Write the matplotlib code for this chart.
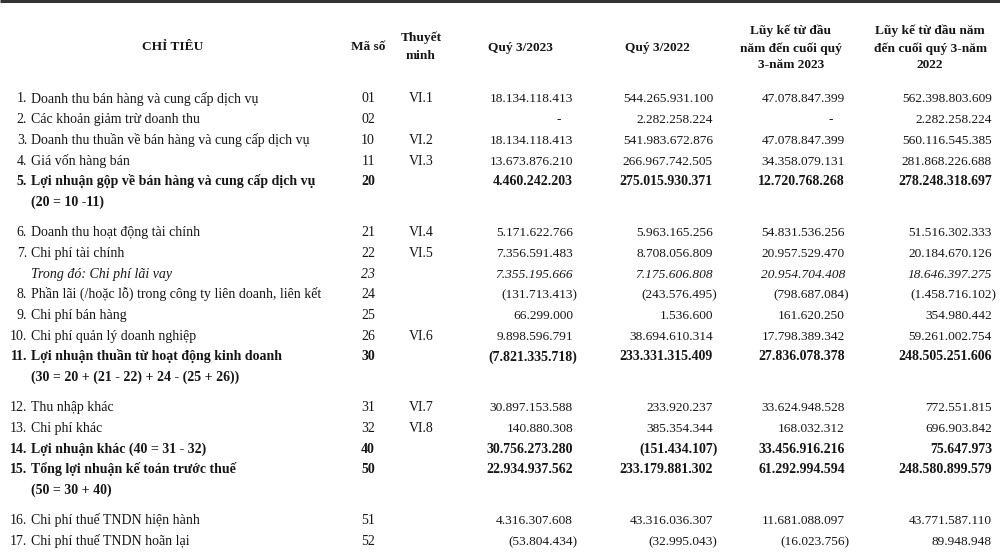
import matplotlib
matplotlib.use("Agg")
import matplotlib.pyplot as plt

plt.rcParams['font.family'] = ['Liberation Serif', 'DejaVu Serif']

# Dữ liệu bảng
so_tt = ["1.", "2.", "3.", "4.", "5.", "6.", "7.", "", "8.", "9.", "10.", "11.",
         "12.", "13.", "14.", "15.", "16.", "17."]
chi_tieu = [
    "Doanh thu bán hàng và cung cấp dịch vụ",
    "Các khoản giảm trừ doanh thu",
    "Doanh thu thuần về bán hàng và cung cấp dịch vụ",
    "Giá vốn hàng bán",
    "Lợi nhuận gộp về bán hàng và cung cấp dịch vụ",
    "Doanh thu hoạt động tài chính",
    "Chi phí tài chính",
    "Trong đó: Chi phí lãi vay",
    "Phần lãi (/hoặc lỗ) trong công ty liên doanh, liên kết",
    "Chi phí bán hàng",
    "Chi phí quản lý doanh nghiệp",
    "Lợi nhuận thuần từ hoạt động kinh doanh",
    "Thu nhập khác",
    "Chi phí khác",
    "Lợi nhuận khác (40 = 31 - 32)",
    "Tổng lợi nhuận kế toán trước thuế",
    "Chi phí thuế TNDN hiện hành",
    "Chi phí thuế TNDN hoãn lại",
]
cong_thuc = {4: "(20 = 10 -11)", 11: "(30 = 20 + (21 - 22) + 24 - (25 + 26))", 15: "(50 = 30 + 40)"}
ma_so = ["01", "02", "10", "11", "20", "21", "22", "23", "24", "25", "26", "30",
         "31", "32", "40", "50", "51", "52"]
thuyet_minh = ["VI.1", "", "VI.2", "VI.3", "", "VI.4", "VI.5", "", "", "", "VI.6", "",
               "VI.7", "VI.8", "", "", "", ""]
dong_dam = [4, 11, 14, 15]
dong_nghieng = [7]

quy3_2023 = [18134118413, None, 18134118413, 13673876210, 4460242203, 5171622766,
             7356591483, 7355195666, -131713413, 66299000, 9898596791, -7821335718,
             30897153588, 140880308, 30756273280, 22934937562, 4316307608, -53804434]
quy3_2022 = [544265931100, 2282258224, 541983672876, 266967742505, 275015930371,
             5963165256, 8708056809, 7175606808, -243576495, 1536600, 38694610314,
             233331315409, 233920237, 385354344, -151434107, 233179881302,
             43316036307, -32995043]
luyke_2023 = [47078847399, None, 47078847399, 34358079131, 12720768268, 54831536256,
              20957529470, 20954704408, -798687084, 161620250, 17798389342,
              27836078378, 33624948528, 168032312, 33456916216, 61292994594,
              11681088097, -16023756]
luyke_2022 = [562398803609, 2282258224, 560116545385, 281868226688, 278248318697,
              51516302333, 20184670126, 18646397275, -1458716102, 354980442,
              59261002754, 248505251606, 772551815, 696903842, 75647973,
              248580899579, 43771587110, 89948948]

tieu_de = ["Quý 3/2023", "Quý 3/2022", "Lũy kế từ đầu\nnăm đến cuối quý\n3-năm 2023",
           "Lũy kế từ đầu năm\nđến cuối quý 3-năm\n2022"]


def dinh_dang(v):
    s = f"{abs(v):,}".replace(",", ".")
    return f"({s})" if v < 0 else s


fig = plt.figure(figsize=(10, 5.58), dpi=100)
ax = fig.add_axes([0, 0, 1, 1])
ax.set_xlim(0, 1000)
ax.set_ylim(558, 0)
ax.axis("off")

mau = "#161616"
fs = 9.6      # cỡ chữ số liệu
fs_nhan = 10.0  # cỡ chữ nhãn

# Đường kẻ trên cùng
ax.plot([0, 1000], [1.2, 1.2], color="#333333", lw=2.2, solid_capstyle="butt")

# Tiêu đề
ax.text(173, 47, "CHỈ TIÊU", ha="center", va="center", fontsize=fs, fontweight="bold", color=mau)
ax.text(368, 47, "Mã số", ha="center", va="center", fontsize=fs, fontweight="bold", color=mau)
ax.text(421, 47, "Thuyết\nminh", ha="center", va="center", fontsize=fs, fontweight="bold",
        color=mau, linespacing=1.65)
cot_x = [573, 713, 845, 992]
tieu_de_x = [520, 657, 791, 930]
for tx, t in zip(tieu_de_x, tieu_de):
    ax.text(tx, 48, t, ha="center", va="center", fontsize=fs, fontweight="bold",
            color=mau, linespacing=1.5)

# Các dòng
buoc = 20.7
y = 98
cot_gt = [quy3_2023, quy3_2022, luyke_2023, luyke_2022]
for i in range(len(chi_tieu)):
    dam = i in dong_dam
    w = "bold" if dam else "normal"
    st = "italic" if i in dong_nghieng else "normal"
    yb = y + 4.5
    kw = dict(va="baseline", fontweight=w, fontstyle=st, color=mau)
    if so_tt[i]:
        ax.text(27, yb, so_tt[i], ha="right", fontsize=fs_nhan, **kw)
    ax.text(31, yb, chi_tieu[i], ha="left", fontsize=fs_nhan, **kw)
    ax.text(368, yb, ma_so[i], ha="center", fontsize=fs_nhan, **kw)
    if thuyet_minh[i]:
        ax.text(421, yb, thuyet_minh[i], ha="center", fontsize=fs_nhan, **kw)
    fv = 10.0 if dam else fs
    for cx, vals in zip(cot_x, cot_gt):
        v = vals[i]
        if v is None:
            ax.text(cx - 12, yb, "-", ha="right", fontsize=fv, **kw)
        elif v < 0:
            ax.text(cx + 4.5, yb, dinh_dang(v), ha="right", fontsize=fv, **kw)
        else:
            ax.text(cx, yb, dinh_dang(v), ha="right", fontsize=fv, **kw)
    y += buoc
    if i in cong_thuc:
        ax.text(31, y + 4.5, cong_thuc[i], ha="left", fontsize=fs_nhan, **kw)
        y += buoc + 9.5

fig.savefig("out.png", dpi=100, facecolor="white")
